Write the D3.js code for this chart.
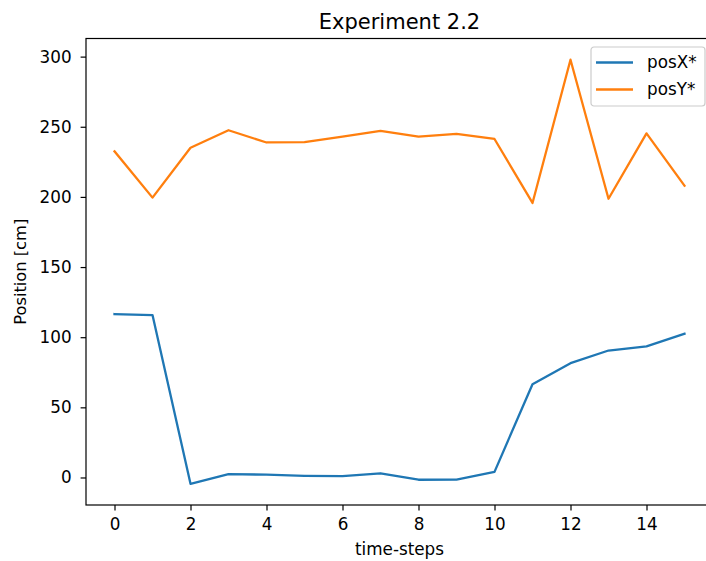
<!DOCTYPE html>
<html>
<head>
<meta charset="utf-8">
<script src="https://cdn.jsdelivr.net/npm/d3@7"></script>
<style>
  body { margin: 0; background: #fff; }
  text { font-family: "DejaVu Sans", sans-serif; fill: #000; }
</style>
</head>
<body>
<svg id="chart" width="706" height="561"></svg>
<script>
// values
const steps = [0, 1, 2, 3, 4, 5, 6, 7, 8, 9, 10, 11, 12, 13, 14, 15]
const posX = [116.5, 115.8, -4.5, 2.4, 2.0, 1.2, 0.9, 3.0, -1.6, -1.5, 4.0, 66.5, 81.5, 90.5, 93.5, 102.5]
const posY = [232.5, 199.5, 235.0, 247.5, 238.8, 239.0, 243.0, 247.0, 243.0, 245.0, 241.3, 195.7, 297.8, 198.7, 245.3, 208.0]
const xTicks = [0, 2, 4, 6, 8, 10, 12, 14]
const yTicks = [0, 50, 100, 150, 200, 250, 300]
const seriesNames = ['posX*', 'posY*']
const colors = ['#1f77b4', '#ff7f0e']

const margin = { top: 38.5, right: -7, bottom: 56, left: 86 }
const width = 706 - margin.left - margin.right
const height = 561 - margin.top - margin.bottom
const fontSize = '16.8px'

const svg = d3.select('#chart')
const g = svg.append('g').attr('transform', `translate(${margin.left},${margin.top})`)

// matplotlib style 5% padding
const x = d3.scaleLinear().domain([-0.75, 15.75]).range([0, width])
const allY = posX.concat(posY)
const yMin = d3.min(allY), yMax = d3.max(allY)
const yPad = (yMax - yMin) * 0.05
const y = d3.scaleLinear().domain([yMin - yPad, yMax + yPad]).range([height, 0])

const line = d3.line().x((d, i) => x(steps[i])).y(d => y(d))

g.selectAll('path.series')
    .data([posX, posY])
    .join('path')
    .attr('class', 'series')
    .attr('fill', 'none')
    .attr('stroke', (d, i) => colors[i])
    .attr('stroke-width', 2.3)
    .attr('stroke-linejoin', 'round')
    .attr('stroke-linecap', 'square')
    .attr('d', line)

// axes
const xAxis = g.append('g')
    .attr('transform', `translate(0,${height})`)
    .call(d3.axisBottom(x).tickValues(xTicks).tickSize(5.4).tickPadding(8))
const yAxis = g.append('g')
    .call(d3.axisLeft(y).tickValues(yTicks).tickSize(5.4).tickPadding(9))

for (const ax of [xAxis, yAxis]) {
    ax.select('.domain').remove()
    ax.selectAll('line').attr('stroke', '#000').attr('stroke-width', 1.2)
    ax.selectAll('text').style('font-size', fontSize).attr('fill', '#000')
}

// frame
g.append('rect')
    .attr('width', width).attr('height', height)
    .attr('fill', 'none').attr('stroke', '#000').attr('stroke-width', 1.2)

// title and labels
svg.append('text')
    .attr('x', margin.left + width / 2).attr('y', 29)
    .attr('text-anchor', 'middle')
    .style('font-size', '21px')
    .text('Experiment 2.2')

svg.append('text')
    .attr('x', margin.left + width / 2).attr('y', 555)
    .attr('text-anchor', 'middle')
    .style('font-size', fontSize)
    .text('time-steps')

svg.append('text')
    .attr('transform', `translate(26,${margin.top + height / 2}) rotate(-90)`)
    .attr('text-anchor', 'middle')
    .style('font-size', '16.3px')
    .text('Position [cm]')

// legend
const legend = svg.append('g').attr('transform', 'translate(591,47)')
legend.append('rect')
    .attr('width', 114).attr('height', 59)
    .attr('rx', 3)
    .attr('fill', '#fff').attr('fill-opacity', 0.8)
    .attr('stroke', '#ccc').attr('stroke-width', 1.2)
const items = legend.selectAll('g.item')
    .data(seriesNames)
    .join('g')
    .attr('class', 'item')
    .attr('transform', (d, i) => `translate(0,${15.5 + i * 27})`)
items.append('line')
    .attr('x1', 5).attr('x2', 42)
    .attr('stroke', (d, i) => colors[i]).attr('stroke-width', 2.3)
items.append('text')
    .attr('x', 56).attr('dy', '0.35em')
    .style('font-size', fontSize)
    .text(d => d)
</script>
</body>
</html>
